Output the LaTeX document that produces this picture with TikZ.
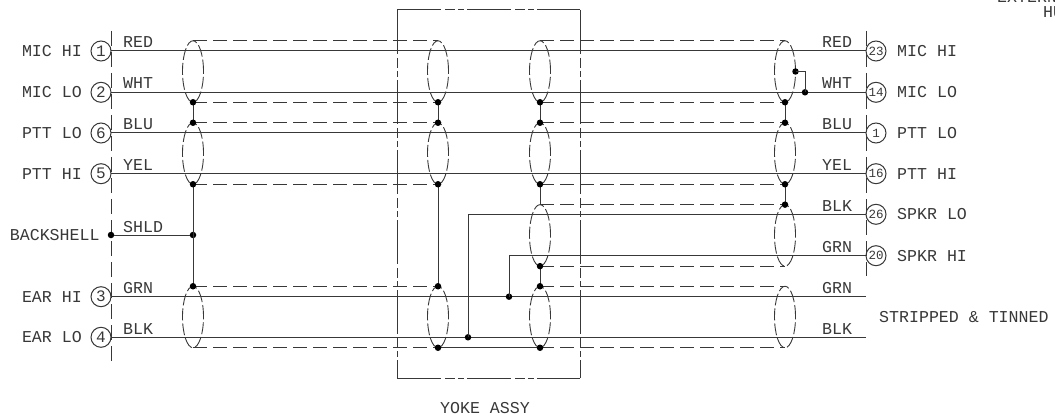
\documentclass[tikz,border=0pt]{standalone}
\usepackage{fontspec}
\setmainfont{Liberation Mono}
\usepackage{xcolor}
\usetikzlibrary{shapes, positioning}
\definecolor{ink}{gray}{0.22}
\tikzset{
		wire/.style={draw=ink, line width=1pt},
		shield/.style={draw=ink, line width=1pt, dash pattern=on 14pt off 6pt},
		boundary/.style={draw=ink, line width=1pt, dash pattern=on 15pt off 6pt},
		phantom/.style={draw=ink, line width=1pt, dash pattern=on 44pt off 4pt on 10pt off 3pt on 6pt off 3pt},
		sheath/.style={ellipse, draw=ink, line width=0.9pt, dash pattern=on 12pt off 3pt, minimum width=21pt, minimum height=61.5pt, inner sep=0pt, outer sep=0pt},
		joint/.style={circle, fill=black, minimum size=6.5pt, inner sep=0pt, outer sep=0pt},
		pin/.style={circle, draw=ink, line width=1pt, minimum size=20pt, inner sep=0pt, outer sep=0pt, text=ink, font=\fontsize{16}{16}\selectfont},
		smallpin/.style={pin, font=\fontsize{12.5}{13}\selectfont},
		label/.style={text=ink, inner sep=0pt, text height=11pt, text depth=0pt, font=\fontsize{16.6}{18}\selectfont},
		colour/.style={label, anchor=west}
	}

\begin{document}
\begin{tikzpicture}[x=1pt,y=-1pt,node distance=9pt]
		\useasboundingbox (0,0) rectangle (1055,417);
		\clip (0,0) rectangle (1055,417);

		\node[pin]      (pL1)  at (101,51)    {1};
		\node[pin]      (pL2)  at (101,92.3)  {2};
		\node[pin]      (pL6)  at (101,133)   {6};
		\node[pin]      (pL5)  at (101,173.7) {5};
		\node[pin]      (pL3)  at (101,296.7) {3};
		\node[pin]      (pL4)  at (101,337.3) {4};
		\node[smallpin] (pR23) at (876,51)    {23};
		\node[smallpin] (pR14) at (876,92.3)  {14};
		\node[smallpin] (pR1)  at (876,133)   {1};
		\node[smallpin] (pR16) at (876,173.7) {16};
		\node[smallpin] (pR26) at (876,214.3) {26};
		\node[smallpin] (pR20) at (876,255.7) {20};
		\coordinate (eGRN) at (866,296.7);
		\coordinate (eBLK) at (866,337.3);

		\node[sheath] (shA1) at (193,71.5)  {};
		\node[sheath] (shA2) at (193,153.5) {};
		\node[sheath] (shA4) at (193,317)   {};
		\node[sheath] (shB1) at (438,71.5)  {};
		\node[sheath] (shB2) at (438,153.5) {};
		\node[sheath] (shB4) at (438,317)   {};
		\node[sheath] (shC1) at (540,71.5)  {};
		\node[sheath] (shC2) at (540,153.5) {};
		\node[sheath] (shC3) at (540,235.4) {};
		\node[sheath] (shC4) at (540,317)   {};
		\node[sheath] (shD1) at (785,71.5)  {};
		\node[sheath] (shD2) at (785,153.5) {};
		\node[sheath] (shD3) at (785,235.4) {};
		\node[sheath] (shD4) at (785,317)   {};

		\coordinate (bTL) at (111,31);
		\coordinate (bBL) at (111,361);
		\coordinate (bTR) at (866,31);
		\coordinate (bBR) at (866,276);
		\coordinate (yTL) at (397,10);
		\coordinate (yTR) at (580,10);
		\coordinate (yBL) at (397,378);
		\coordinate (yBR) at (580,378);

		\path[boundary] (bTL) edge (bBL);
		\path[boundary] (bTR) edge (bBR);
		\path[phantom] (yTL) edge (yTR);
		\path[phantom] (yBL) edge (yBR);
		\path[phantom] (yTL) edge (yBL);
		\path[phantom] (yTR) edge (yBR);

		\path[shield] (shA1.north) edge (shB1.north);
		\path[shield] (shA1.south) edge (shB1.south);
		\path[shield] (shA2.north) edge (shB2.north);
		\path[shield] (shA2.south) edge (shB2.south);
		\path[shield] (shA4.north) edge (shB4.north);
		\path[shield] (shA4.south) edge (shB4.south);
		\path[shield] (shC1.north) edge (shD1.north);
		\path[shield] (shC1.south) edge (shD1.south);
		\path[shield] (shC2.north) edge (shD2.north);
		\path[shield] (shC2.south) edge (shD2.south);
		\path[shield] (shC3.north) edge (shD3.north);
		\path[shield] (shC3.south) edge (shD3.south);
		\path[shield] (shC4.north) edge (shD4.north);
		\path[shield] (shC4.south) edge (shD4.south);

		\path[wire] (pL1.east) edge (pR23.west);
		\path[wire] (pL2.east) edge (pR14.west);
		\path[wire] (pL6.east) edge (pR1.west);
		\path[wire] (pL5.east) edge (pR16.west);
		\path[wire] (pL3.east) edge (eGRN);
		\path[wire] (pL4.east) edge (eBLK);

		\node[joint] (jShell) at (111,235)   {};
		\node[joint] (jDrain) at (193,235)   {};
		\node[joint] (jBlk)   at (468,337.3) {};
		\node[joint] (jGrn)   at (509,296.7) {};
		\node[joint] (jStrap) at (shD1.east) {};
		\node[joint] (jMic)   at (805,92.3)  {};

		\path[wire] (jShell) edge (jDrain);
		\path[wire] (shB4.south) edge (shC4.south);
		\draw[wire] (jBlk.center) |- (pR26.west);
		\draw[wire] (jGrn.center) |- (pR20.west);
		\draw[wire] (jStrap.center) -| (jMic.center);

		\path[wire] (shA1.south) edge (shA2.north);
		\path[wire] (shA2.south) edge (shA4.north);
		\path[wire] (shB1.south) edge (shB2.north);
		\path[wire] (shB2.south) edge (shB4.north);
		\path[wire] (shC1.south) edge (shC2.north);
		\path[wire] (shC2.south) edge (shC3.north);
		\path[wire] (shC3.south) edge (shC4.north);
		\path[wire] (shD1.south) edge (shD2.north);
		\path[wire] (shD2.south) edge (shD3.north);

		\node[joint] (jA1) at (shA1.south) {};
		\node[joint] (jA2) at (shA2.north) {};
		\node[joint] (jA3) at (shA2.south) {};
		\node[joint] (jA4) at (shA4.north) {};
		\node[joint] (jB1) at (shB1.south) {};
		\node[joint] (jB2) at (shB2.north) {};
		\node[joint] (jB3) at (shB2.south) {};
		\node[joint] (jB4) at (shB4.north) {};
		\node[joint] (jB5) at (shB4.south) {};
		\node[joint] (jC1) at (shC1.south) {};
		\node[joint] (jC2) at (shC2.north) {};
		\node[joint] (jC3) at (shC2.south) {};
		\node[joint] (jC4) at (shC3.south) {};
		\node[joint] (jC5) at (shC4.north) {};
		\node[joint] (jC6) at (shC4.south) {};
		\node[joint] (jD1) at (shD1.south) {};
		\node[joint] (jD2) at (shD2.north) {};
		\node[joint] (jD3) at (shD2.south) {};
		\node[joint] (jD4) at (shD3.north) {};

		\node[label, left=of pL1] (tL1) {MIC HI};
		\node[label, left=of pL2] (tL2) {MIC LO};
		\node[label, left=of pL6] (tL6) {PTT LO};
		\node[label, left=of pL5] (tL5) {PTT HI};
		\node[label, left=of pL3] (tL3) {EAR HI};
		\node[label, left=of pL4] (tL4) {EAR LO};
		\node[label, left=8pt of jShell] (tShell) {BACKSHELL};
		\node[label, right=11pt of pR23] (tR23) {MIC HI};
		\node[label, right=11pt of pR14] (tR14) {MIC LO};
		\node[label, right=11pt of pR1]  (tR1)  {PTT LO};
		\node[label, right=11pt of pR16] (tR16) {PTT HI};
		\node[label, right=11pt of pR26] (tR26) {SPKR LO};
		\node[label, right=11pt of pR20] (tR20) {SPKR HI};

		\node[colour] (cL1) at (123,42.5)  {RED};
		\node[colour] (cL2) at (123,83)    {WHT};
		\node[colour] (cL6) at (123,124)   {BLU};
		\node[colour] (cL5) at (123,165)   {YEL};
		\node[colour] (cLS) at (123,226.5) {SHLD};
		\node[colour] (cL3) at (123,288)   {GRN};
		\node[colour] (cL4) at (123,328.5) {BLK};
		\node[colour] (cR1) at (822,42.5)  {RED};
		\node[colour] (cR2) at (822,83)    {WHT};
		\node[colour] (cR6) at (822,124)   {BLU};
		\node[colour] (cR5) at (822,165)   {YEL};
		\node[colour] (cR7) at (822,206)   {BLK};
		\node[colour] (cR8) at (822,247)   {GRN};
		\node[colour] (cR3) at (822,288)   {GRN};
		\node[colour] (cR4) at (822,328.5) {BLK};

		\node[colour] (tTin)  at (879,316.5) {STRIPPED \& TINNED};
		\node[label]  (tYoke) at (485,408)   {YOKE ASSY};
		\node[colour] (tExt)  at (997,-3)    {EXTERNAL};
		\node[colour] (tHu)   at (1043,12)   {HU};
	\end{tikzpicture}
\end{document}
